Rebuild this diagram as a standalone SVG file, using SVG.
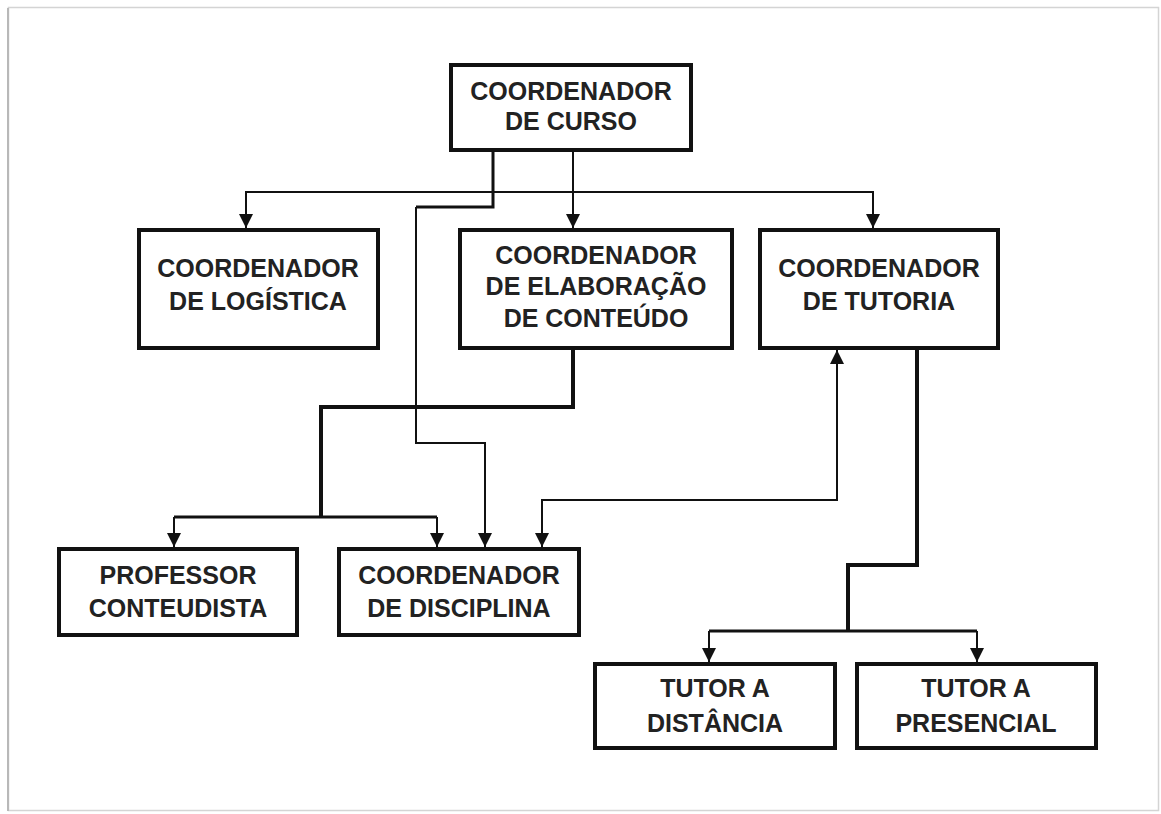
<svg xmlns="http://www.w3.org/2000/svg" width="1161" height="814" viewBox="0 0 1161 814">
  <style>
    .box { fill: #ffffff; stroke: #111111; stroke-width: 4; }
    .lbl { font-family: "Liberation Sans", Arial, sans-serif; font-weight: bold; font-size: 25px; fill: #222222; text-anchor: middle; }
    .thin { fill: none; stroke: #111111; stroke-width: 2; }
    .mid { fill: none; stroke: #111111; stroke-width: 3; }
    .thick { fill: none; stroke: #111111; stroke-width: 4; }
  </style>
  <defs>
    <marker id="arr" viewBox="0 0 14 14" refX="14" refY="7" markerWidth="14" markerHeight="14" markerUnits="userSpaceOnUse" orient="auto-start-reverse">
      <path d="M0,0 L14,7 L0,14 z" fill="#111111"/>
    </marker>
  </defs>
  <rect x="0" y="0" width="1161" height="814" fill="#ffffff"/>
  <rect x="8.5" y="7.5" width="1150" height="803" fill="#ffffff" stroke="#d4d4d4" stroke-width="1.5"/>
  <line x1="8" y1="8" x2="8" y2="811" stroke="#b8b8b8" stroke-width="2"/>

  <g id="connectors">
    <path class="thin" d="M573,152 V228" marker-end="url(#arr)"/>
    <path class="thin" d="M573,192 H246 V228" marker-end="url(#arr)"/>
    <path class="thin" d="M573,192 H873 V228" marker-end="url(#arr)"/>
    <path class="mid" d="M493,152 V207 H416"/>
    <path class="thin" d="M416,207 V443 H485 V547" marker-end="url(#arr)"/>
    <path class="thick" d="M573,350 V407 H321 V517"/>
    <path class="mid" d="M174,517 H437"/>
    <path class="thin" d="M174,517 V547" marker-end="url(#arr)"/>
    <path class="thin" d="M437,517 V547" marker-end="url(#arr)"/>
    <path class="thin" d="M542,547 V500 H837 V350" marker-start="url(#arr)" marker-end="url(#arr)"/>
    <path class="thick" d="M917,350 V565 H848 V631"/>
    <path class="mid" d="M709,631 H977"/>
    <path class="thin" d="M709,631 V662" marker-end="url(#arr)"/>
    <path class="thin" d="M977,631 V662" marker-end="url(#arr)"/>
  </g>

  <g id="coordenador-curso">
    <rect class="box" x="451" y="65" width="240" height="85"/>
    <text class="lbl" x="571" y="100">COORDENADOR</text>
    <text class="lbl" x="571" y="130">DE CURSO</text>
  </g>
  <g id="coordenador-logistica">
    <rect class="box" x="139" y="230" width="239" height="118"/>
    <text class="lbl" x="258" y="277">COORDENADOR</text>
    <text class="lbl" x="258" y="310">DE LOGÍSTICA</text>
  </g>
  <g id="coordenador-elaboracao">
    <rect class="box" x="460" y="230" width="272" height="118"/>
    <text class="lbl" x="596" y="264">COORDENADOR</text>
    <text class="lbl" x="596" y="295">DE ELABORAÇÃO</text>
    <text class="lbl" x="596" y="327">DE CONTEÚDO</text>
  </g>
  <g id="coordenador-tutoria">
    <rect class="box" x="760" y="230" width="238" height="118"/>
    <text class="lbl" x="879" y="277">COORDENADOR</text>
    <text class="lbl" x="879" y="310">DE TUTORIA</text>
  </g>
  <g id="professor-conteudista">
    <rect class="box" x="59" y="549" width="238" height="86"/>
    <text class="lbl" x="178" y="584">PROFESSOR</text>
    <text class="lbl" x="178" y="617">CONTEUDISTA</text>
  </g>
  <g id="coordenador-disciplina">
    <rect class="box" x="339" y="549" width="240" height="86"/>
    <text class="lbl" x="459" y="584">COORDENADOR</text>
    <text class="lbl" x="459" y="617">DE DISCIPLINA</text>
  </g>
  <g id="tutor-distancia">
    <rect class="box" x="595" y="664" width="240" height="84"/>
    <text class="lbl" x="715" y="697">TUTOR A</text>
    <text class="lbl" x="715" y="732">DISTÂNCIA</text>
  </g>
  <g id="tutor-presencial">
    <rect class="box" x="857" y="664" width="239" height="84"/>
    <text class="lbl" x="976" y="697">TUTOR A</text>
    <text class="lbl" x="976" y="732">PRESENCIAL</text>
  </g>
</svg>
